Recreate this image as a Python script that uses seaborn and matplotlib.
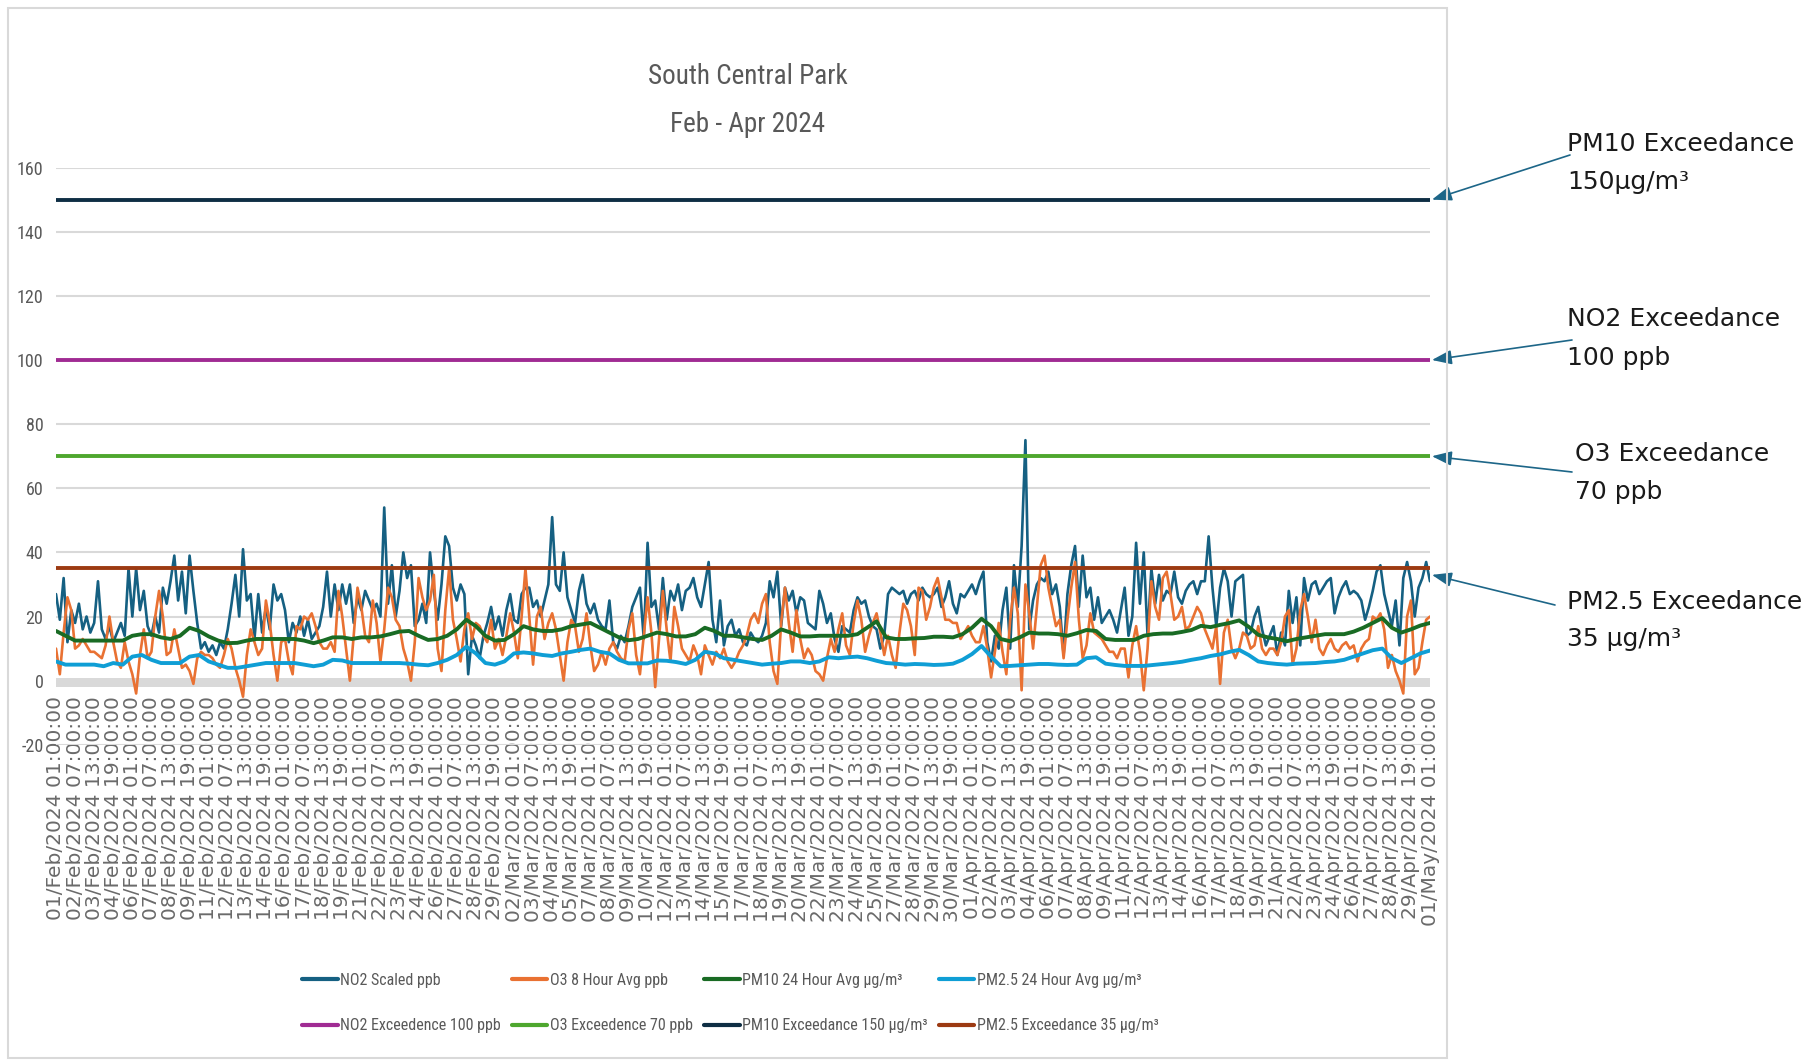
import numpy as np
import pandas as pd
import matplotlib
matplotlib.use("Agg")
import matplotlib.pyplot as plt
import seaborn as sns
from matplotlib import font_manager as fm
from matplotlib.patches import Rectangle

# ---------------- data ----------------
start_time = "2024-02-01 01:00:00"
no2_step_hours = 6
pm_step_hours = 15
tick_step_hours = 30

no2_scaled = [
    27, 19, 32, 12, 22, 18, 24, 16, 20, 15,
    18, 31, 16, 13, 17, 12, 15, 18, 14, 35,
    20, 35, 22, 28, 17, 14, 20, 15, 29, 24,
    31, 39, 25, 34, 21, 39, 28, 18, 10, 12,
    9, 11, 8, 12, 10, 16, 24, 33, 20, 41,
    25, 27, 13, 27, 15, 23, 16, 30, 25, 27,
    22, 12, 18, 15, 20, 14, 19, 13, 15, 17,
    23, 34, 20, 30, 22, 30, 24, 30,
    18, 26, 22, 28, 25, 22, 24, 20, 54, 24,
    36, 20, 28, 40, 32, 36, 17, 19, 24, 18,
    40, 28, 19, 30, 45, 42, 29, 25, 30, 27,
    2, 14, 11, 7, 14, 18, 23, 16, 20, 14,
    22, 27, 19, 18, 27, 29, 29, 23, 25, 20,
    25, 30, 51, 30, 28, 40, 26, 22, 18, 28,
    33, 24, 21, 24, 19, 17, 16, 25, 12, 10,
    14, 12, 17, 23, 26,
    29, 13, 43, 23, 25, 16, 32, 19, 28, 25,
    30, 22, 28, 29, 32, 26, 23, 30, 37, 19,
    12, 25, 11, 17, 19, 14, 16, 12, 11, 15,
    13, 12, 14, 18, 31, 26, 34, 17, 29, 25,
    28, 21, 26, 25, 18, 17, 16, 28, 24, 18,
    21, 13, 9, 17, 16, 15, 22, 26, 24, 25,
    20, 17, 16, 10, 14, 27, 29, 28, 27, 28,
    24, 27, 28, 25, 29, 27,
    26, 27, 29, 23, 26, 31, 24, 21, 27, 26,
    28, 30, 27, 31, 34, 12, 6, 14, 10, 22,
    29, 10, 36, 23, 42, 75, 16, 25, 30, 32,
    31, 34, 27, 30, 23, 8, 27, 36, 42, 23,
    39, 26, 29, 19, 26, 18, 20, 22, 19, 15,
    22, 29, 14, 20, 43, 24, 40, 14, 35, 24,
    33, 25, 28, 27, 34, 26, 24, 28, 30, 31,
    27, 31, 31, 45, 29, 17,
    29, 35, 31, 20, 31, 32, 33, 14, 15, 20,
    23, 16, 11, 14, 17, 8, 15, 11, 28, 18,
    26, 11, 32, 25, 30, 31, 27, 29, 31, 32,
    21, 26, 29, 31, 27, 28, 27, 25, 19, 23,
    28, 34, 36, 27, 22, 17, 25, 11, 32, 37,
    31, 20, 29, 32, 37, 31,
]

o3_8hr = [
    10, 2, 15, 26, 22, 10, 11, 13, 11, 9,
    9, 8, 7, 11, 20, 12, 6, 4, 12, 6,
    2, -4, 8, 16, 7, 9, 20, 28, 20, 8,
    9, 16, 10, 4, 5, 3, -1, 7, 9, 8,
    8, 7, 5, 4, 8, 13, 10, 4, 0, -5,
    8, 16, 12, 8, 10, 25, 18, 8, 0, 12,
    13, 6, 2, 17, 16, 20, 19, 21, 17, 12,
    10, 10, 12, 9, 28, 20, 10, 0,
    14, 29, 23, 14, 12, 25, 18, 6, 16, 29,
    26, 19, 17, 10, 6, 0, 12, 32, 26, 22,
    25, 33, 10, 3, 22, 35, 19, 13, 6, 16,
    21, 13, 18, 17, 14, 12, 19, 10, 13, 8,
    14, 21, 15, 7, 20, 35, 20, 5, 20, 23,
    13, 18, 21, 16, 8, 0, 12, 19, 17, 9,
    13, 21, 11, 3, 5, 9, 5, 10, 12, 9,
    7, 6, 16, 21, 8,
    2, 14, 26, 15, -2, 13, 28, 16, 6, 23,
    17, 10, 8, 6, 11, 8, 2, 11, 8, 5,
    9, 7, 10, 6, 4, 6, 9, 11, 14, 19,
    21, 18, 24, 27, 12, 3, -1, 18, 29, 18,
    9, 22, 13, 7, 10, 8, 3, 2, 0, 7,
    13, 9, 16, 21, 11, 8, 18, 25, 19, 9,
    14, 18, 21, 15, 8, 14, 8, 4, 15, 24,
    22, 17, 8, 29, 28, 19,
    23, 29, 32, 26, 19, 19, 18, 18, 13, 15,
    17, 14, 12, 12, 17, 10, 1, 9, 18, 9,
    2, 19, 29, 21, -3, 30, 21, 10, 23, 36,
    39, 29, 23, 17, 19, 7, 19, 29, 37, 19,
    7, 11, 21, 15, 14, 13, 11, 9, 9, 7,
    10, 10, 1, 11, 17, 9, -3, 10, 31, 23,
    19, 32, 34, 27, 19, 20, 23, 16, 17, 20,
    23, 21, 16, 13, 10, 17,
    -1, 15, 19, 10, 7, 10, 15, 14, 10, 11,
    17, 10, 8, 10, 10, 8, 12, 20, 22, 5,
    10, 22, 27, 20, 12, 19, 10, 8, 11, 13,
    10, 9, 11, 12, 10, 11, 6, 10, 12, 13,
    20, 19, 21, 16, 4, 8, 3, 0, -4, 20,
    25, 2, 4, 12, 19, 20,
]

pm10_24hr = [
    15.5, 14, 12.5, 12.5, 12.5, 12.5, 12.5, 12.5, 14, 14.5,
    14.5, 13.5, 13, 14, 16.5, 15.5, 13.8, 12.5, 11.7, 11.8,
    12.5, 13, 13, 13, 13, 13, 12.5, 11.7, 12.5, 13.5,
    13.5, 13, 13.5, 13.5, 13.8, 14.5, 15.3, 15.5, 14, 12.7,
    13, 14, 16, 19, 17, 14, 12.5, 12.7, 14.5, 17,
    16, 15.5, 15.5, 16, 17, 17.5, 18, 16.5, 15, 13.5,
    12.6, 13, 14, 15, 14.5, 13.8, 13.8, 14.5, 16.5, 15.5,
    14, 14, 13.5, 13, 12.7, 14, 16, 15, 13.8, 13.8,
    14, 14, 14, 14, 14.5, 16.5, 18.5, 13.5, 13, 13,
    13.2, 13.3, 13.7, 13.7, 13.5, 14.5, 16.5, 19.3, 17, 13,
    12.3, 13.5, 15, 14.7, 14.7, 14.5, 14, 14.8, 15.8, 15.5,
    13, 12.7, 12.7, 12.7, 14, 14.5, 14.7, 14.7, 15.2, 15.8,
    17.1, 16.7, 17.4, 18, 18.8, 16.8, 14.3, 13.5, 13, 12.3,
    13, 13.5, 14, 14.5, 14.5, 14.5, 15.3, 16.5, 18, 19.5,
    16.5, 15, 16, 17.2, 18,
]

pm25_24hr = [
    6, 5, 5, 5, 5, 4.5, 5.5, 5, 7.5, 8,
    6.5, 5.5, 5.5, 5.5, 7.5, 8, 6, 5, 4, 4,
    4.5, 5, 5.5, 5.5, 5.5, 5.5, 5, 4.5, 5, 6.5,
    6.3, 5.5, 5.5, 5.5, 5.5, 5.5, 5.5, 5.3, 5, 4.8,
    5.5, 6.5, 8, 10.6, 8.5, 5.5, 5, 6, 8.5, 8.8,
    8.5, 8, 7.7, 8.5, 9, 9.6, 10, 9, 8.5, 6.5,
    5.4, 5.4, 5.4, 6.3, 6.2, 5.8, 5.2, 6.5, 9, 8.5,
    7, 6.5, 6, 5.5, 5, 5.3, 5.5, 6, 6, 5.5,
    6, 7.3, 7, 7.3, 7.5, 7, 6.2, 5.5, 5.3, 5,
    5.2, 5.1, 4.9, 5, 5.3, 6.5, 8.3, 10.8, 7.5, 4.5,
    4.6, 4.8, 5, 5.2, 5.2, 5, 4.9, 5, 7, 7.3,
    5.3, 4.9, 4.6, 4.6, 4.6, 4.9, 5.2, 5.5, 5.9, 6.5,
    7, 7.7, 8.2, 9, 9.6, 8, 6, 5.5, 5.2, 5,
    5.3, 5.4, 5.5, 5.8, 6, 6.5, 7.5, 8.5, 9.5, 10,
    7, 5.5, 7, 8.5, 9.4,
]

exceed_names = ["NO2 Exceedence 100 ppb", "O3 Exceedence 70 ppb",
                "PM10 Exceedance 150 µg/m³", "PM2.5 Exceedance 35 µg/m³"]
exceed_values = [100, 70, 150, 35]

series_names = ["NO2 Scaled ppb", "O3 8 Hour Avg ppb",
                "PM10 24 Hour Avg µg/m³", "PM2.5 24 Hour Avg µg/m³"]

title_lines = ["South Central Park", "Feb - Apr 2024"]
callouts = [("PM10 Exceedance", "150µg/m³"), ("NO2 Exceedance", "100 ppb"),
            ("O3 Exceedance", "70 ppb"), ("PM2.5 Exceedance", "35 µg/m³")]
y_ticks = list(range(-20, 161, 20))

assert len(no2_scaled) == 361, len(no2_scaled)
assert len(o3_8hr) == 361, len(o3_8hr)
assert len(pm10_24hr) == 145, len(pm10_24hr)
assert len(pm25_24hr) == 145, len(pm25_24hr)

# ---------------- style ----------------
sns.set_theme(style="white")


def has_font(name):
    try:
        fm.findfont(fm.FontProperties(family=name), fallback_to_default=False)
        return True
    except Exception:
        return False


NARROW = None
for cand in ["Liberation Sans Narrow", "Roboto Condensed", "Open Sans Condensed",
             "DejaVu Sans Condensed", "Noto Sans Condensed"]:
    if has_font(cand):
        NARROW = cand
        break
if NARROW is None:
    NARROW = "Liberation Sans" if has_font("Liberation Sans") else "DejaVu Sans"
    sz_title, sz_ytick, sz_leg = 16, 12, 9.5
else:
    sz_title, sz_ytick, sz_leg = 19.5, 13, 11.5

plt.rcParams["font.family"] = ["DejaVu Sans"]

C_NO2 = "#156082"
C_O3 = "#E97132"
C_PM10 = "#196B24"
C_PM25 = "#0F9ED5"
C_NO2X = "#A02B93"
C_O3X = "#4EA72E"
C_PM10X = "#0E2E44"
C_PM25X = "#9C3A12"
GRID = "#d9d9d9"
TXT = "#595959"

W, H = 1812, 1061
fig = plt.figure(figsize=(W / 100, H / 100), dpi=100)
fig.patch.set_facecolor("white")
ax_left, ax_right, ax_top, ax_bot = 56, 1430, 167.6, 744.8
ax = fig.add_axes([ax_left / W, 1 - ax_bot / H, (ax_right - ax_left) / W, (ax_bot - ax_top) / H])
ax.set_facecolor("white")
for s in ax.spines.values():
    s.set_visible(False)
ax.spines["bottom"].set_position(("data", 0))

t0 = pd.Timestamp(start_time)
hours_fine = np.arange(len(no2_scaled)) * no2_step_hours
hours_pm = np.arange(len(pm10_24hr)) * pm_step_hours
total_hours = hours_fine[-1]

df_fast = pd.DataFrame({"hour": hours_fine, "no2": no2_scaled, "o3": o3_8hr})
df_pm = pd.DataFrame({"hour": hours_pm, "pm10": pm10_24hr, "pm25": pm25_24hr})

ax.axhspan(-2.1, 0.7, color=GRID, lw=0, zorder=1)

sns.lineplot(data=df_fast, x="hour", y="no2", ax=ax, color=C_NO2, lw=1.9,
             label=series_names[0], zorder=3, legend=False)
sns.lineplot(data=df_fast, x="hour", y="o3", ax=ax, color=C_O3, lw=1.9,
             label=series_names[1], zorder=3, legend=False)
sns.lineplot(data=df_pm, x="hour", y="pm10", ax=ax, color=C_PM10, lw=2.8,
             label=series_names[2], zorder=3, legend=False)
sns.lineplot(data=df_pm, x="hour", y="pm25", ax=ax, color=C_PM25, lw=2.8,
             label=series_names[3], zorder=3, legend=False)

exceed_colors = [C_NO2X, C_O3X, C_PM10X, C_PM25X]
for name, val, col in zip(exceed_names, exceed_values, exceed_colors):
    dfx = pd.DataFrame({"hour": [0, total_hours], "v": [val, val]})
    sns.lineplot(data=dfx, x="hour", y="v", ax=ax, color=col, lw=2.8,
                 label=name, zorder=4, legend=False)

ax.set_xlim(0, total_hours)
ax.set_ylim(-20, 160)
ax.set_yticks(y_ticks)
ax.set_yticklabels([str(v) for v in y_ticks], family=NARROW, fontsize=sz_ytick, color=TXT)
tick_hours = np.arange(0, total_hours + 1, tick_step_hours)
tick_labels = [(t0 + pd.Timedelta(hours=int(h))).strftime("%d/%b/%Y %H:%M:%S") for h in tick_hours]
ax.set_xticks(tick_hours)
ax.set_xticklabels(tick_labels, rotation=90, fontsize=14.5, color="#6a6a6a", family="DejaVu Sans",
                   ha="center", va="top")
ax.set_xlabel("")
ax.set_ylabel("")
ax.tick_params(axis="x", length=0, pad=11, labelrotation=90)
ax.tick_params(axis="y", length=0, pad=9)
ax.yaxis.grid(True, color=GRID, lw=1.5)
ax.xaxis.grid(False)
ax.set_axisbelow(True)

# title
fig.text(748 / W, 1 - 76 / H, title_lines[0], ha="center", va="center",
         fontsize=sz_title, color=TXT, family=NARROW)
fig.text(748 / W, 1 - 125 / H, title_lines[1], ha="center", va="center",
         fontsize=sz_title, color=TXT, family=NARROW)

# legend
handles, labels = ax.get_legend_handles_labels()
order = [0, 4, 1, 5, 2, 6, 3, 7]
leg = fig.legend([handles[i] for i in order], [labels[i] for i in order],
                 ncol=4, loc="center", mode="expand",
                 bbox_to_anchor=(296 / W, 1 - 1048 / H, (1165 - 296) / W, (1048 - 958) / H),
                 frameon=False, prop={"family": NARROW, "size": sz_leg},
                 handlelength=2.2, handletextpad=0.15, labelspacing=1.9,
                 columnspacing=0.8, borderaxespad=0)
for t in leg.get_texts():
    t.set_color(TXT)
for lh in leg.get_lines():
    lh.set_linewidth(3.0)

# chart border
fig.add_artist(Rectangle((8 / W, 3 / H), (1447 - 8) / W, (1058 - 3 - 5) / H,
                         transform=fig.transFigure, fill=False, ec=GRID, lw=1.5))

# callouts
text_pos = [(1567, 144, 182), (1567, 319, 358), (1575, 454, 492), (1567, 602, 639)]
tails = [(1570, 155), (1572, 340), (1572, 472), (1555, 605)]
tips = [150, 100, 70, 33]
ARROW = "#1d6688"
for (l1, l2), (tx, y1, y2), (ax_, ay_), tv in zip(callouts, text_pos, tails, tips):
    fig.text(tx / W, 1 - y1 / H, l1, ha="left", va="center", fontsize=18,
             color="#1a1a1a", family="DejaVu Sans")
    fig.text(tx / W, 1 - y2 / H, l2, ha="left", va="center", fontsize=18,
             color="#1a1a1a", family="DejaVu Sans")
    ax.annotate("", xy=(total_hours + 3, tv), xycoords="data",
                xytext=(ax_, H - ay_), textcoords="figure pixels",
                annotation_clip=False,
                arrowprops=dict(arrowstyle="-|>,head_length=0.6,head_width=0.22",
                                mutation_scale=20, color=ARROW, lw=1.2,
                                shrinkA=0, shrinkB=0))

fig.savefig("out.png", dpi=100, facecolor="white")
